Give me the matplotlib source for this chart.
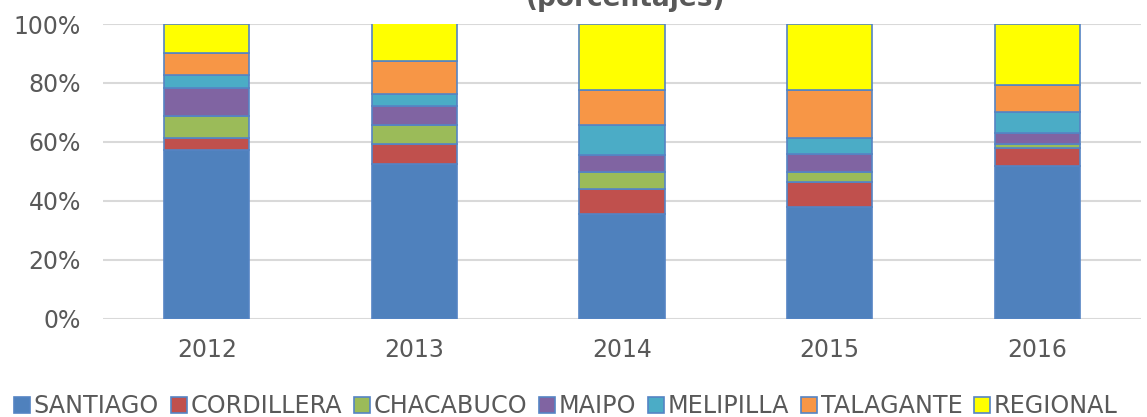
import matplotlib.pyplot as plt
import numpy as np

years = ['2012', '2013', '2014', '2015', '2016']
santiago = [57.2, 52.5, 35.5, 38.0, 51.9]
cordillera = [4.1, 6.7, 8.6, 8.3, 5.9]
chacabuco = [7.6, 6.4, 5.7, 3.6, 1.5]
maipo = [9.5, 6.5, 5.7, 6.0, 3.6]
melipilla = [4.3, 4.2, 10.2, 5.5, 7.2]
talagante = [7.4, 11.0, 11.8, 16.1, 9.1]
regional = [9.9, 13.5, 22.5, 22.5, 20.8]

names = ['SANTIAGO', 'CORDILLERA', 'CHACABUCO', 'MAIPO', 'MELIPILLA', 'TALAGANTE', 'REGIONAL']
series = [santiago, cordillera, chacabuco, maipo, melipilla, talagante, regional]
colors = ['#4F81BD', '#C0504D', '#9BBB59', '#8064A2', '#4BACC6', '#F79646', '#FFFF00']

fig = plt.figure(figsize=(11.47, 4.17), dpi=100)
ax = fig.add_axes([0.0898, 0.2357, 0.9050, 0.7067])

x = np.arange(len(years))
bottom = np.zeros(len(years))
for name, vals, c in zip(names, series, colors):
    vals = np.array(vals)
    ax.bar(x, vals, 0.41, bottom=bottom, color=c, edgecolor='#5584C4',
           linewidth=1.2, label=name, zorder=3)
    bottom += vals

ax.set_xlim(-0.5, 4.5)
ax.set_ylim(0, 100)
ax.set_yticks(np.arange(0, 101, 20))
ax.set_yticklabels([f'{v}%' for v in range(0, 101, 20)])
ax.set_xticks(x)
ax.set_xticklabels(years)
ax.grid(axis='y', color='#D9D9D9', linewidth=1.5, zorder=0)
for s in ax.spines.values():
    s.set_visible(False)
ax.tick_params(axis='y', length=0, pad=16, labelsize=17, labelcolor='#595959')
ax.tick_params(axis='x', length=0, pad=14, labelsize=17, labelcolor='#595959')

# title is cut at the top edge, as in the original
fig.text(0.545, 1 - 12 / 417, '(porcentajes)', ha='center', va='bottom',
         fontsize=19, fontweight='bold', color='#595959')

leg = fig.legend(loc='center left', bbox_to_anchor=(14 / 1147, 1 - 406 / 417), ncol=7,
                 frameon=False, fontsize=17.2, handlelength=0.66, handleheight=0.66,
                 handletextpad=0.16, columnspacing=0.5, borderaxespad=0,
                 borderpad=0)
for t in leg.get_texts():
    t.set_color('#595959')

fig.savefig('out.png', dpi=100)
